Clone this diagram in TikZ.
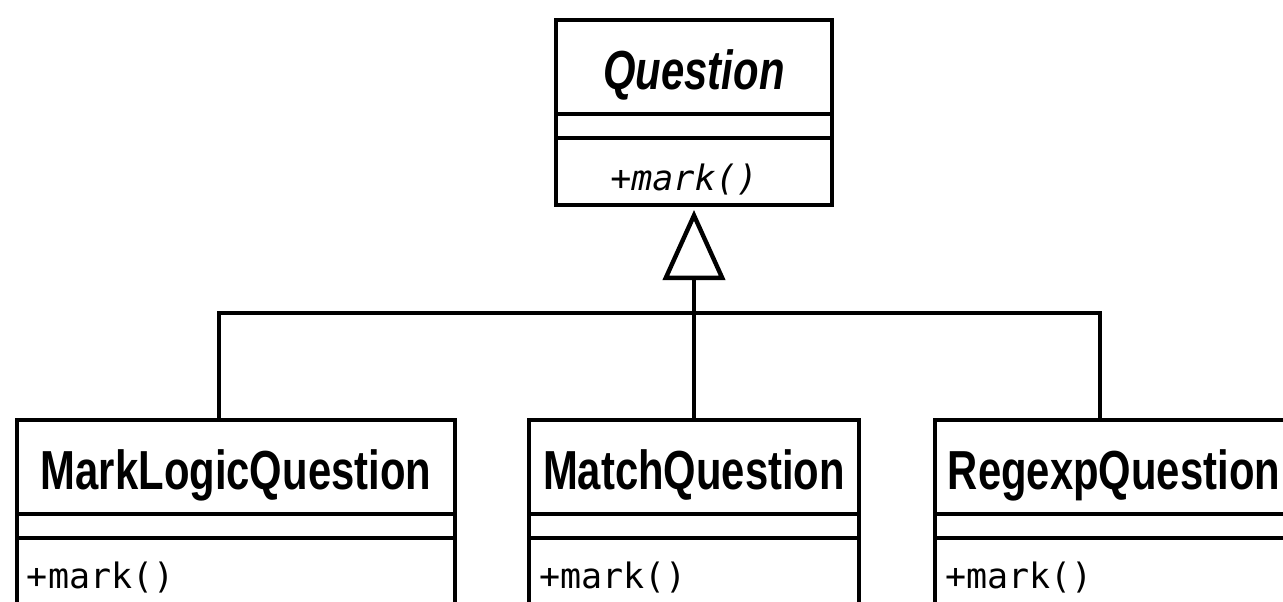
\documentclass[tikz,border=0pt]{standalone}
\usepackage{fontspec}
\usetikzlibrary{arrows.meta}
\newfontfamily\titlefont{Liberation Sans}[FakeStretch=0.76]
\newfontfamily\methfont{DejaVu Sans Mono}
\begin{document}
\begin{tikzpicture}[x=1pt,y=-1pt,
  cls/.style={draw, line width=4.4pt, outer sep=0pt, inner sep=0pt, anchor=north},
  ttl/.style={cls, font={\titlefont\bfseries\fontsize{55}{60}\selectfont}, minimum height=94, text height=44, text depth=0},
  attrbox/.style={cls, minimum height=24},
  meth/.style={cls, font={\methfont\fontsize{35}{40}\selectfont}, minimum height=100, text height=0pt, text depth=0pt, align=left, inner xsep=10pt},
  conn/.style={draw, line width=4.4pt}]
\path[use as bounding box, fill=white] (0,0) rectangle (1283,602);
\clip (0,0) rectangle (1283,602);
% Question
\node[ttl, minimum width=276] (q) at (694,20) {\itshape Question};
\node[attrbox, minimum width=276] (qa) at (q.south) {};
\node[cls, minimum width=276, minimum height=67, font={\methfont\itshape\fontsize{35}{40}\selectfont}, text height=37, text depth=0] (qm) at (qa.south) {+mark()\kern20pt};
% MarkLogicQuestion
\node[ttl, minimum width=438] (ml) at (236,420) {MarkLogicQuestion};
\node[attrbox, minimum width=438] (mla) at (ml.south) {};
\node[meth, text width=418] (mlm) at (mla.south) {+mark()};
% MatchQuestion
\node[ttl, minimum width=330] (ma) at (694,420) {MatchQuestion};
\node[attrbox, minimum width=330] (maa) at (ma.south) {};
\node[meth, text width=310] (mam) at (maa.south) {+mark()};
% RegexpQuestion
\node[ttl, minimum width=358] (rg) at (1114,420) {RegexpQuestion};
\node[attrbox, minimum width=358] (rga) at (rg.south) {};
\node[meth, text width=338] (rgm) at (rga.south) {+mark()};
% connectors
\coordinate (jl) at (219,313);
\coordinate (jr) at (1100,313);
\draw[conn] (jl |- ml.north) -- (jl) -- (jr) -- (jr |- rg.north);
\draw[conn, -{Triangle[open, length=70pt, width=62pt]}] (ma.north) -- ([yshift=-5pt]qm.south);
\end{tikzpicture}
\end{document}
